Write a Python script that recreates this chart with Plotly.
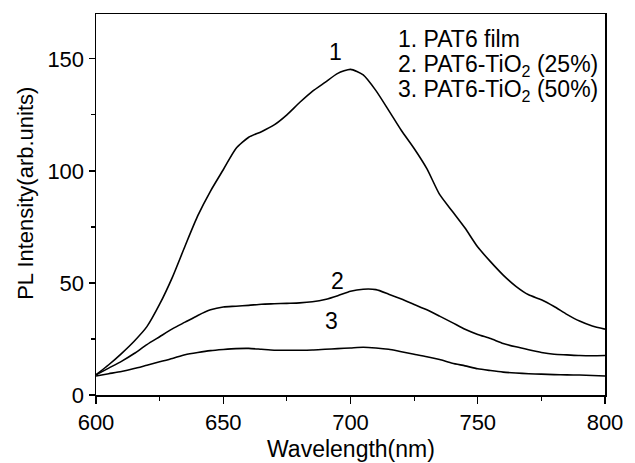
import plotly.graph_objects as go

wavelength = [600, 605, 610, 615, 620, 625, 630, 635, 640, 645, 650, 655, 660, 665, 670,
              675, 680, 685, 690, 695, 700, 705, 710, 715, 720, 725, 730, 735, 740, 745,
              750, 755, 760, 765, 770, 775, 780, 785, 790, 795, 800]

pat6_film = [9, 13.5, 18.5, 24, 30.5, 40.5, 52.5, 66.5, 80, 91, 100.5, 110, 115, 117.5, 120.5,
             125, 130.5, 135.5, 139.5, 143.5, 145.3, 142.8, 135.8, 127, 118, 110, 101, 89.5, 82, 74.5,
             66, 59.5, 53.5, 48.5, 44.7, 42.5, 39.5, 36, 33, 30.8, 29.4]

pat6_tio2_25 = [9, 12, 15, 18.5, 22.5, 26, 29.5, 32.5, 35.5, 38, 39.3, 39.6, 40, 40.5, 40.7,
                40.9, 41.1, 41.6, 42.6, 44.3, 46.3, 47.2, 47, 45, 42.8, 40.4, 38, 35.2, 32.3, 29.3,
                27, 25.2, 23, 21.5, 20.2, 19, 18.2, 17.9, 17.6, 17.5, 17.6]

pat6_tio2_50 = [8.5, 9.5, 10.5, 11.8, 13.3, 14.8, 16.3, 18, 19, 19.8, 20.3, 20.7, 20.8, 20.4, 20,
                20, 20, 20.1, 20.4, 20.7, 21, 21.3, 21, 20.4, 19.3, 18.2, 17.1, 15.8, 14.2, 13,
                11.7, 10.9, 10.2, 9.8, 9.5, 9.3, 9.1, 9, 8.9, 8.7, 8.5]

curve_labels = ["1", "2", "3"]
legend_lines = ["1. PAT6 film", "2. PAT6-TiO<sub>2</sub> (25%)", "3. PAT6-TiO<sub>2</sub> (50%)"]
x_ticks = [600, 650, 700, 750, 800]
y_ticks = [0, 50, 100, 150]
x_title = "Wavelength(nm)"
y_title = "PL Intensity(arb.units)"

FONT = "Liberation Sans, Arial, sans-serif"

fig = go.Figure()
for series in [pat6_film, pat6_tio2_25, pat6_tio2_50]:
    fig.add_trace(go.Scatter(x=wavelength, y=series, mode="lines",
                             line=dict(color="black", width=1.6, shape="spline", smoothing=0.6),
                             showlegend=False, hoverinfo="skip"))

# curve number labels
label_pos = [(694, 153), (695, 51), (692.5, 33)]
for txt, (lx, ly) in zip(curve_labels, label_pos):
    fig.add_annotation(x=lx, y=ly, xref="x", yref="y", text=txt, showarrow=False,
                       font=dict(family=FONT, size=23, color="black"))

# legend text block
leg_y = [0.934, 0.866, 0.798]
for txt, ly in zip(legend_lines, leg_y):
    fig.add_annotation(x=0.590, y=ly, xref="paper", yref="paper", text=txt, showarrow=False,
                       xanchor="left", yanchor="middle",
                       font=dict(family=FONT, size=23, color="black"))

# axis titles
fig.add_annotation(x=0.5, y=(395 - 449) / 381.0, xref="paper", yref="paper", text=x_title,
                   showarrow=False, font=dict(family=FONT, size=23, color="black"),
                   xanchor="center", yanchor="middle")
fig.add_annotation(x=-0.14, y=0.53, xref="paper", yref="paper", text=y_title, showarrow=False,
                   textangle=-90, font=dict(family=FONT, size=22, color="black"),
                   xanchor="center", yanchor="middle")

fig.update_xaxes(range=[600, 800], tickvals=x_ticks, ticks="outside", ticklen=7, tickwidth=1.3,
                 tickcolor="black", showline=True, linecolor="black", linewidth=1.5, mirror=True,
                 showgrid=False, zeroline=False,
                 tickfont=dict(family=FONT, size=22, color="black"),
                 minor=dict(ticks="outside", ticklen=4, dtick=25, tick0=600, tickcolor="black", tickwidth=1.2))
fig.update_yaxes(range=[0, 170], tickvals=y_ticks, ticks="outside", ticklen=6, tickwidth=1.3,
                 tickcolor="black", showline=True, linecolor="black", linewidth=1.5, mirror=True,
                 showgrid=False, zeroline=False,
                 tickfont=dict(family=FONT, size=22, color="black"),
                 minor=dict(ticks="outside", ticklen=4, dtick=25, tick0=0, tickcolor="black", tickwidth=1.2))

fig.update_layout(width=635, height=463, autosize=False,
                  margin=dict(l=95.5, r=20.7, t=14, b=68, pad=0),
                  plot_bgcolor="white", paper_bgcolor="white",
                  font=dict(family=FONT, color="black"))

fig.write_html("out.html", config={"displayModeBar": False, "staticPlot": True},
               post_script="document.body.style.margin='0';document.body.style.overflow='hidden';")
